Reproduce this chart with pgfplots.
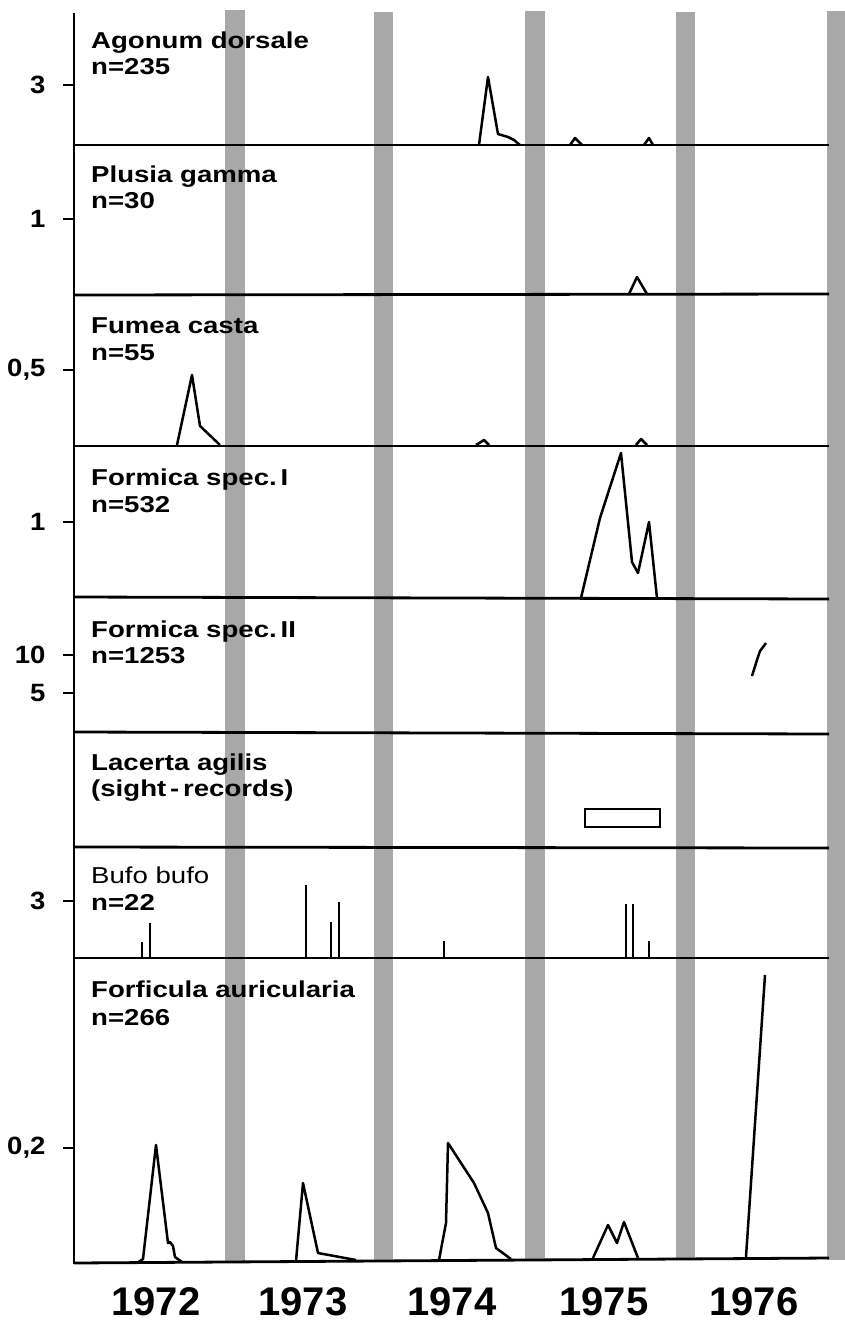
\documentclass[border=0pt]{standalone}
\usepackage{fontspec}
\setmainfont{Liberation Sans}
\newfontfamily\labfont[FakeStretch=1.2]{Liberation Sans}
\newfontfamily\tickfont[FakeStretch=1.1]{Liberation Sans}
\usepackage{pgfplots}
\pgfplotsset{compat=1.18}
\definecolor{band}{RGB}{168,168,168}
\pgfplotsset{
  base/.style={black, line width=2.8pt, no markers},
  data/.style={black, line width=2.5pt, line join=round, no markers},
  spike/.style={black, line width=2pt, no markers},
}
\newcommand{\lab}[3]{\node[anchor=base west, inner sep=0pt, font=\labfont\fontsize{23}{23}\selectfont\bfseries] at (axis cs:#1,#2) {#3};}
\begin{document}
\begin{tikzpicture}
\begin{axis}[
  x=1pt, y=1pt,
  xmin=74, xmax=845, ymin=10, ymax=1264,
  y dir=reverse,
  clip=false,
  axis line style={draw=none},
  ytick={85,219,370,522,655,693,901,1148},
  yticklabels={3,1,{0,5},1,10,5,3,{0,2}},
  ytick pos=left,
  tick align=outside,
  major tick length=11pt,
  ytick style={line width=2pt,black},
  yticklabel style={font=\tickfont\fontsize{25}{25}\selectfont\bfseries, anchor=east, xshift=-14pt},
  xtick={156,303,452,604,754},
  xticklabels={1972,1973,1974,1975,1976},
  major x tick style={draw=none},
  xticklabel style={font=\fontsize{40}{40}\selectfont\bfseries, yshift=-9pt},
  xticklabel pos=left,
  /pgf/number format/assume math mode=true,
]
% winter bands
\addplot[fill=band, draw=none] coordinates {(225,10)(245,10)(245,1263)(225,1263)} -- cycle;
\addplot[fill=band, draw=none] coordinates {(374,12)(393,12)(393,1262)(374,1262)} -- cycle;
\addplot[fill=band, draw=none] coordinates {(525,11)(545,11)(545,1261)(525,1261)} -- cycle;
\addplot[fill=band, draw=none] coordinates {(676,12)(695,12)(695,1259)(676,1259)} -- cycle;
\addplot[fill=band, draw=none] coordinates {(827,11)(845,11)(845,1260)(827,1260)} -- cycle;
% axis and panel baselines
\addplot[base] coordinates {(74,13)(74,1264)};
\addplot[base] coordinates {(74,145)(829,145)};
\addplot[base] coordinates {(74,295)(829,294)};
\addplot[base] coordinates {(74,446)(829,446)};
\addplot[base] coordinates {(74,597)(829,599)};
\addplot[base] coordinates {(74,732)(829,734)};
\addplot[base] coordinates {(74,847)(829,848)};
\addplot[base] coordinates {(74,958)(829,958)};
\addplot[base] coordinates {(74,1263)(829,1258)};
% Agonum dorsale
\addplot[data] coordinates {(479,145)(488,77)(498,134)(508,137)(514,140)(520,145)};
\addplot[data] coordinates {(570,145)(575,138)(582,145)};
\addplot[data] coordinates {(644,145)(649,138)(653,145)};
% Plusia gamma
\addplot[data] coordinates {(629,294)(637,277)(647,294)};
% Fumea casta
\addplot[data] coordinates {(177,445)(192,375)(200,426)(220,445)};
\addplot[data] coordinates {(476,445)(484,440)(489,445)};
\addplot[data] coordinates {(636,445)(641,439)(647,445)};
% Formica spec. I
\addplot[data] coordinates {(581,598)(600,518)(621,453)(632,562)(638,573)(649,522)(657,598)};
% Formica spec. II
\addplot[data] coordinates {(752,676)(757,660)(760,651)(766,643)};
% Lacerta agilis (sight records)
\addplot[data, line join=miter] coordinates {(585,809)(660,809)(660,827)(585,827)} -- cycle;
% Bufo bufo
\addplot[spike] coordinates {(142,958)(142,942)};
\addplot[spike] coordinates {(150,958)(150,923)};
\addplot[spike] coordinates {(306,958)(306,885)};
\addplot[spike] coordinates {(331,958)(331,922)};
\addplot[spike] coordinates {(339,958)(339,902)};
\addplot[spike] coordinates {(444,958)(444,941)};
\addplot[spike] coordinates {(626,958)(626,904)};
\addplot[spike] coordinates {(633,958)(633,904)};
\addplot[spike] coordinates {(649,958)(649,941)};
% Forficula auricularia
\addplot[data] coordinates {(137,1263)(143,1259)(156,1145)(168,1243)(170,1242)(173,1246)(175,1257)(182,1262)};
\addplot[data] coordinates {(296,1261)(303,1183)(318,1253)(356,1260)};
\addplot[data] coordinates {(439,1260)(446,1223)(448,1143)(474,1183)(488,1213)(496,1248)(511,1259)};
\addplot[data] coordinates {(593,1258)(608,1225)(617,1243)(624,1222)(638,1258)};
\addplot[data] coordinates {(746,1257)(765,975)};
% labels
\lab{91}{48}{Agonum dorsale}
\lab{91}{74}{n=235}
\lab{91}{182}{Plusia gamma}
\lab{91}{208}{n=30}
\lab{91}{333}{Fumea casta}
\lab{91}{360}{n=55}
\lab{91}{485}{Formica spec.\,I}
\lab{91}{512}{n=532}
\lab{91}{637}{Formica spec.\,II}
\lab{91}{663}{n=1253}
\lab{91}{770}{Lacerta agilis}
\lab{91}{796}{(sight\,-\,records)}
\node[anchor=base west, inner sep=0pt, font=\labfont\fontsize{23}{23}\selectfont] at (axis cs:91,883) {Bufo bufo};
\lab{91}{910}{n=22}
\lab{91}{997}{Forficula auricularia}
\lab{91}{1025}{n=266}
\coordinate (BL) at (axis cs:0,1323);
\coordinate (TR) at (axis cs:845,0);
\end{axis}
\pgfresetboundingbox
\path[use as bounding box] (BL) rectangle (TR);
\end{tikzpicture}
\end{document}
